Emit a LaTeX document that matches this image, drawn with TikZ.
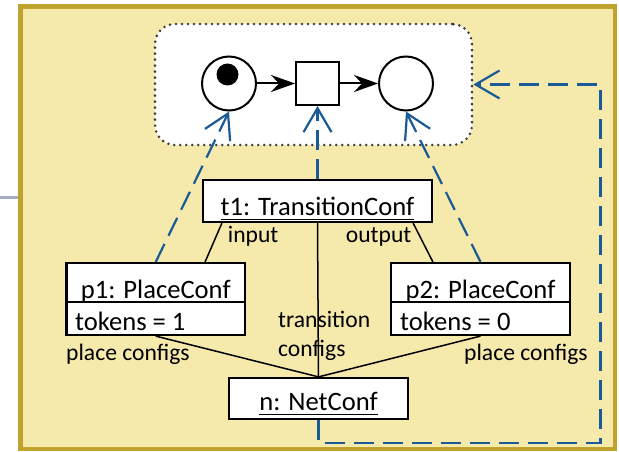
\documentclass[tikz,border=0pt]{standalone}
\usepackage{fontspec}
\setmainfont{Carlito}
\usetikzlibrary{arrows.meta}
\definecolor{bgyellow}{RGB}{245,234,172}
\definecolor{framecol}{RGB}{192,163,44}
\definecolor{myblue}{RGB}{26,90,150}
\definecolor{dotcol}{RGB}{60,60,60}
\definecolor{greyline}{RGB}{165,174,190}
\newcommand{\undl}[1]{\sbox0{#1}\rlap{\rule[-5.4pt]{\wd0}{1.6pt}}\usebox0}
\begin{document}
\begin{tikzpicture}[x=1pt,y=-1pt,
  box/.style={draw=black,line width=2.2pt,fill=white,inner sep=0pt},
  big/.style={font=\fontsize{26.6}{30}\selectfont,inner sep=0pt},
  lab/.style={font=\fontsize{23.6}{27}\selectfont,inner sep=0pt},
  conn/.style={line width=1.5pt,draw=black},
  place/.style={draw=black,circle,line width=2pt,fill=white,minimum size=54pt,inner sep=0pt},
  blued/.style={draw=myblue,line width=2.2pt,dash pattern=on 20pt off 9pt,-{Straight Barb[length=24pt,width=28pt]}},
  flow/.style={draw=black,line width=2pt,-{Stealth[length=24pt,width=17pt,inset=8pt]}}]
\useasboundingbox (0,0) rectangle (619,452);
% grey tab line and frame
\draw[greyline,line width=3pt] (0,197) -- (19,197);
\draw[framecol,line width=4.5pt,fill=bgyellow] (20.5,6.5) rectangle (615,449);
% net box
\node[draw=dotcol,line width=2.8pt,line cap=round,dash pattern=on 0pt off 6pt,fill=white,rounded corners=20pt,
  minimum width=317pt,minimum height=121pt,inner sep=0pt] (net) at (313.5,84.5) {};
\node[place] (pl1) at (229,83.5) {};
\node[circle,fill=black,minimum size=22pt,inner sep=0pt] (tok) at (227.5,74.5) {};
\node[draw=black,line width=2pt,fill=white,minimum size=43pt,inner sep=0pt] (tr) at (317.5,83.5) {};
\node[place] (pl2) at (406,83.5) {};
\draw[flow] (pl1) -- (tr);
\draw[flow] (tr) -- (pl2);
% object boxes
\node[box,minimum width=229pt,minimum height=42pt] (t1) at (317.5,201) {};
\node[big,anchor=base] (t1t) at (317.5,215) {\undl{t1: TransitionConf}};
\node[box,minimum width=178.5pt,minimum height=72pt] (p1) at (155.75,299) {};
\draw[line width=2.2pt] ([yshift=-40pt]p1.north west) -- ([yshift=-40pt]p1.north east);
\node[big,anchor=base] (p1t) at (155.75,298) {\undl{p1: PlaceConf}};
\node[big,anchor=base west] (p1v) at (75,330) {tokens = 1};
\node[box,minimum width=179pt,minimum height=72pt] (p2) at (480.5,299) {};
\draw[line width=2.2pt] ([yshift=-40pt]p2.north west) -- ([yshift=-40pt]p2.north east);
\node[big,anchor=base] (p2t) at (480.5,298) {\undl{p2: PlaceConf}};
\node[big,anchor=base west] (p2v) at (400,330) {tokens = 0};
\node[box,minimum width=179pt,minimum height=41pt] (n) at (318.5,398.5) {};
\node[big,anchor=base] (nt) at (318.5,410) {\undl{n: NetConf}};
% labels
\node[lab,anchor=base west] (lin) at (227.7,242.7) {input};
\node[lab,anchor=base west] (lout) at (345.7,242.7) {output};
\node[lab,anchor=base west] (ltr1) at (278,327.5) {transition};
\node[lab,anchor=base west] (ltr2) at (278,356) {configs};
\node[lab,anchor=base west] (lpc1) at (66,360) {place configs};
\node[lab,anchor=base west] (lpc2) at (464,360) {place configs};
% connectors
\draw[conn] ([xshift=20pt]t1.south west) -- ([xshift=-41pt]p1.north east);
\draw[conn] ([xshift=-20pt]t1.south east) -- ([xshift=43pt]p2.north west);
\draw[conn] (t1.south) -- (n.north);
\draw[conn] (p1.south) -- (n.north);
\draw[conn] (p2.south) -- (n.north);
% blue dashed arrows
\draw[blued] (p1.north) -- (pl1.south);
\draw[blued] (t1.north) -- (tr.south);
\draw[blued] (p2.north) -- (pl2.south);
\draw[blued] (n.south) |- (600.5,443) |- (net.east);
\end{tikzpicture}
\end{document}
